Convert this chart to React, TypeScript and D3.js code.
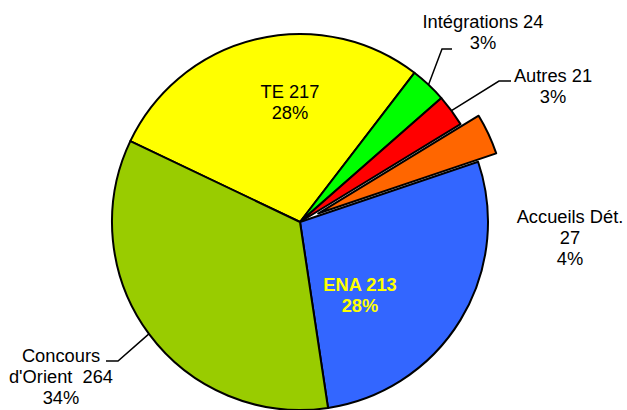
import React from "react";
import * as d3 from "d3";

// Data
const categories = ["TE", "Intégrations", "Autres", "Accueils Dét.", "ENA", "Concours d'Orient"];
const values = [217, 24, 21, 27, 213, 264];
const colors = ["#FFFF00", "#00FF00", "#FF0000", "#FF6600", "#3366FF", "#99CC00"];

const width = 627;
const height = 410;
const cx = 300;
const cy = 222;
const radius = 188;
const explodeIndex = 3;
const explodeDist = 20;

// label layout: lines of text, anchor x, first baseline, optional leader elbow/end
type LabelCfg = { lines: (v: number, p: string) => string[]; x: number; y: number; fill?: string; bold?: boolean; leader?: [number, number][] };
const labelCfg: LabelCfg[] = [
  { lines: (v, p) => [`TE ${v}`, p], x: 290, y: 98 },
  { lines: (v, p) => [`Intégrations ${v}`, p], x: 483, y: 28, leader: [[442, 49], [452, 49]] },
  { lines: (v, p) => [`Autres ${v}`, p], x: 553, y: 82, leader: [[499, 81], [511, 81]] },
  { lines: (v, p) => ["Accueils Dét.", `${v}`, p], x: 570, y: 223 },
  { lines: (v, p) => [`ENA ${v}`, p], x: 360, y: 291, fill: "#FFFF00", bold: true },
  { lines: (v, p) => ["Concours", `d'Orient  ${v}`, p], x: 61, y: 362, leader: [[118, 361], [106, 361]] },
];

export default function App() {
  const total = d3.sum(values);
  const start = -64.5 * Math.PI / 180;
  const pie = d3.pie<number>().sort(null).startAngle(start).endAngle(start + 2 * Math.PI);
  const arcs = pie(values);
  const arc = d3.arc<d3.PieArcDatum<number>>().innerRadius(0).outerRadius(radius);
  const fmt = d3.format(".0%");

  return (
    <svg width={width} height={height} style={{ position: "absolute", left: 0, top: 0 }}
      fontFamily="'Liberation Sans', Arial, sans-serif" fontSize={18.3}>
      <g transform={`translate(${cx},${cy})`}>
        {arcs.map((a, i) => {
          const mid = (a.startAngle + a.endAngle) / 2;
          const off = i === explodeIndex ? explodeDist : 0;
          const dx = Math.sin(mid) * off;
          const dy = -Math.cos(mid) * off;
          return (
            <path key={i} d={arc(a) || ""} transform={`translate(${dx},${dy})`}
              fill={colors[i]} stroke="#000" strokeWidth={2} strokeLinejoin="round" />
          );
        })}
      </g>
      {arcs.map((a, i) => {
        const cfg = labelCfg[i];
        if (!cfg.leader) return null;
        const mid = (a.startAngle + a.endAngle) / 2;
        const p0: [number, number] = [cx + Math.sin(mid) * radius, cy - Math.cos(mid) * radius];
        const line = d3.line()([p0, ...cfg.leader]);
        return <path key={"l" + i} d={line || ""} fill="none" stroke="#000" strokeWidth={1.5} />;
      })}
      {arcs.map((a, i) => {
        const cfg = labelCfg[i];
        const lines = cfg.lines(values[i], fmt(values[i] / total));
        return (
          <text key={"t" + i} x={cfg.x} y={cfg.y} textAnchor="middle"
            fill={cfg.fill || "#000"} fontWeight={cfg.bold ? "bold" : "normal"}>
            {lines.map((s, j) => (
              <tspan key={j} x={cfg.x} dy={j === 0 ? 0 : 21} style={{ whiteSpace: "pre" }}>{s}</tspan>
            ))}
          </text>
        );
      })}
    </svg>
  );
}
